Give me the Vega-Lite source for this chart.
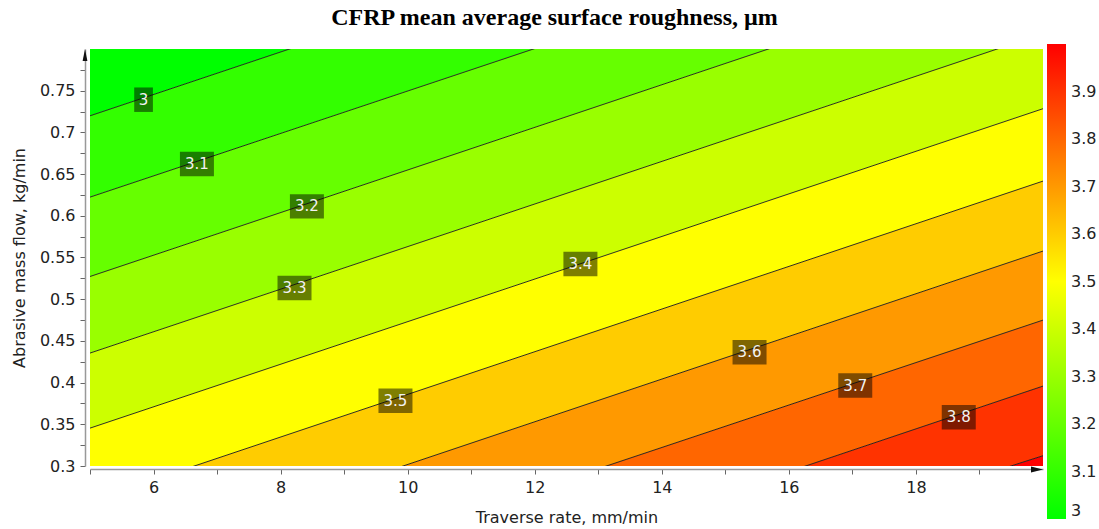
{
  "$schema": "https://vega.github.io/schema/vega-lite/v6.json",
  "width": 953,
  "height": 417,
  "autosize": {"type": "none"},
  "padding": {"left": 90, "top": 49, "right": 56, "bottom": 63},
  "background": "white",
  "config": {"view": {"stroke": null}},
  "title": {
    "text": "CFRP mean average surface roughness, µm",
    "font": "Liberation Serif",
    "fontSize": 24,
    "fontWeight": "bold",
    "color": "#000000",
    "anchor": "middle",
    "dx": -12,
    "offset": 14
  },
  "datasets": {
    "bands": [
      {"v": 3.0, "x": 5, "y": 0.7199, "y2": 1.4},
      {"v": 3.0, "x": 20, "y": 1.1025, "y2": 1.4},
      {"v": 3.1, "x": 5, "y": 0.6224, "y2": 0.7199},
      {"v": 3.1, "x": 20, "y": 1.0041, "y2": 1.1025},
      {"v": 3.2, "x": 5, "y": 0.5272, "y2": 0.6224},
      {"v": 3.2, "x": 20, "y": 0.9104, "y2": 1.0041},
      {"v": 3.3, "x": 5, "y": 0.4354, "y2": 0.5272},
      {"v": 3.3, "x": 20, "y": 0.8184, "y2": 0.9104},
      {"v": 3.4, "x": 5, "y": 0.3454, "y2": 0.4354},
      {"v": 3.4, "x": 20, "y": 0.7284, "y2": 0.8184},
      {"v": 3.5, "x": 5, "y": 0.2580, "y2": 0.3454},
      {"v": 3.5, "x": 20, "y": 0.6416, "y2": 0.7284},
      {"v": 3.6, "x": 5, "y": 0.1739, "y2": 0.2580},
      {"v": 3.6, "x": 20, "y": 0.5577, "y2": 0.6416},
      {"v": 3.7, "x": 5, "y": 0.0931, "y2": 0.1739},
      {"v": 3.7, "x": 20, "y": 0.4749, "y2": 0.5577},
      {"v": 3.8, "x": 5, "y": 0.0112, "y2": 0.0931},
      {"v": 3.8, "x": 20, "y": 0.3958, "y2": 0.4749},
      {"v": 3.9, "x": 5, "y": -0.0538, "y2": 0.0112},
      {"v": 3.9, "x": 20, "y": 0.3123, "y2": 0.3958},
      {"v": 4.0, "x": 5, "y": -0.3, "y2": -0.0538},
      {"v": 4.0, "x": 20, "y": -0.3, "y2": 0.3123}
    ],
    "lines": [
      {"level": 3.0, "x": 5, "y": 0.7199},
      {"level": 3.0, "x": 20, "y": 1.1025},
      {"level": 3.1, "x": 5, "y": 0.6224},
      {"level": 3.1, "x": 20, "y": 1.0041},
      {"level": 3.2, "x": 5, "y": 0.5272},
      {"level": 3.2, "x": 20, "y": 0.9104},
      {"level": 3.3, "x": 5, "y": 0.4354},
      {"level": 3.3, "x": 20, "y": 0.8184},
      {"level": 3.4, "x": 5, "y": 0.3454},
      {"level": 3.4, "x": 20, "y": 0.7284},
      {"level": 3.5, "x": 5, "y": 0.2580},
      {"level": 3.5, "x": 20, "y": 0.6416},
      {"level": 3.6, "x": 5, "y": 0.1739},
      {"level": 3.6, "x": 20, "y": 0.5577},
      {"level": 3.7, "x": 5, "y": 0.0931},
      {"level": 3.7, "x": 20, "y": 0.4749},
      {"level": 3.8, "x": 5, "y": 0.0112},
      {"level": 3.8, "x": 20, "y": 0.3958},
      {"level": 3.9, "x": 5, "y": -0.0538},
      {"level": 3.9, "x": 20, "y": 0.3123}
    ],
    "labels": [
      {"label": "3", "x": 5.843, "y": 0.7392},
      {"label": "3.1", "x": 6.683, "y": 0.6621},
      {"label": "3.2", "x": 8.414, "y": 0.6113},
      {"label": "3.3", "x": 8.219, "y": 0.5134},
      {"label": "3.4", "x": 12.719, "y": 0.5422},
      {"label": "3.5", "x": 9.808, "y": 0.3783},
      {"label": "3.6", "x": 15.381, "y": 0.4364},
      {"label": "3.7", "x": 17.045, "y": 0.3965},
      {"label": "3.8", "x": 18.674, "y": 0.3585}
    ],
    "arrows": [
      {"dir": "up", "x": 5, "y": 0.8},
      {"dir": "right", "x": 20, "y": 0.3}
    ]
  },
  "encoding": {
    "x": {
      "field": "x", "type": "quantitative",
      "scale": {"domain": [5, 20], "nice": false, "zero": false},
      "axis": {
        "values": [5, 6, 7, 8, 9, 10, 11, 12, 13, 14, 15, 16, 17, 18, 19],
        "format": "d",
        "labelExpr": "datum.value % 2 == 0 ? datum.label : ''",
        "tickSize": 5,
        "offset": 3,
        "grid": false,
        "title": "Traverse rate, mm/min",
        "labelFont": "DejaVu Sans", "labelFontSize": 16, "labelColor": "#222222",
        "labelPadding": 5,
        "titleFont": "DejaVu Sans", "titleFontSize": 16, "titleFontWeight": "normal", "titleColor": "#222222",
        "titlePadding": 14,
        "domainColor": "#999999", "domainWidth": 1.5,
        "tickColor": "#666666", "tickWidth": 1
      }
    },
    "y": {
      "field": "y", "type": "quantitative",
      "scale": {"domain": [0.3, 0.8], "nice": false, "zero": false},
      "axis": {
        "values": [0.3, 0.325, 0.35, 0.375, 0.4, 0.425, 0.45, 0.475, 0.5, 0.525, 0.55, 0.575, 0.6, 0.625, 0.65, 0.675, 0.7, 0.725, 0.75, 0.775],
        "format": ".2~f",
        "labelExpr": "abs(datum.value*20 - round(datum.value*20)) < 0.001 ? datum.label : ''",
        "tickSize": 5,
        "offset": 5,
        "grid": false,
        "title": "Abrasive mass flow, kg/min",
        "labelFont": "DejaVu Sans", "labelFontSize": 16, "labelColor": "#222222",
        "labelPadding": 5,
        "titleFont": "DejaVu Sans", "titleFontSize": 16, "titleFontWeight": "normal", "titleColor": "#222222",
        "titlePadding": 12,
        "domainColor": "#999999", "domainWidth": 1.5,
        "tickColor": "#666666", "tickWidth": 1
      }
    }
  },
  "layer": [
    {
      "data": {"name": "bands"},
      "mark": {"type": "area", "clip": true, "interpolate": "linear"},
      "encoding": {
        "y2": {"field": "y2"},
        "detail": {"field": "v", "type": "nominal"},
        "color": {
          "field": "v", "type": "quantitative",
          "scale": {"domain": [3, 4], "range": ["#00ff00", "#ffff00", "#ff0000"], "interpolate": "rgb"},
          "legend": {
            "orient": "none",
            "legendX": 957,
            "legendY": -5,
            "direction": "vertical",
            "gradientLength": 475,
            "gradientThickness": 19,
            "gradientStrokeWidth": 0,
            "title": null,
            "values": [3, 3.1, 3.2, 3.3, 3.4, 3.5, 3.6, 3.7, 3.8, 3.9],
            "format": ".1~f",
            "labelFont": "DejaVu Sans",
            "labelFontSize": 16,
            "labelColor": "#222222",
            "labelOffset": 5
          }
        }
      }
    },
    {
      "data": {"name": "lines"},
      "mark": {"type": "line", "clip": true, "stroke": "#1a1a1a", "strokeWidth": 0.9},
      "encoding": {
        "detail": {"field": "level", "type": "nominal"}
      }
    },
    {
      "data": {"name": "labels"},
      "mark": {"type": "point", "filled": true, "fill": "#000000", "fillOpacity": 0.5, "strokeWidth": 0, "size": 1156},
      "encoding": {
        "shape": {
          "condition": {"test": "length(datum.label) == 1", "value": "M-0.55,-0.72H0.55V0.72H-0.55Z"},
          "value": "M-1,-0.72H1V0.72H-1Z"
        }
      }
    },
    {
      "data": {"name": "labels"},
      "mark": {"type": "text", "font": "DejaVu Sans", "fontSize": 15, "fill": "#f2f2f2", "align": "center", "baseline": "middle"},
      "encoding": {
        "text": {"field": "label", "type": "nominal"}
      }
    },
    {
      "data": {"name": "arrows"},
      "transform": [{"filter": "datum.dir == 'up'"}],
      "mark": {"type": "point", "filled": true, "fill": "#111111", "strokeWidth": 0, "size": 144, "shape": "M0,-1L0.4,1L-0.4,1Z", "xOffset": -5, "yOffset": 6, "opacity": 1},
      "encoding": {}
    },
    {
      "data": {"name": "arrows"},
      "transform": [{"filter": "datum.dir == 'right'"}],
      "mark": {"type": "point", "filled": true, "fill": "#111111", "strokeWidth": 0, "size": 144, "shape": "M1,0L-1,0.5L-1,-0.5Z", "xOffset": -6, "yOffset": 3.5, "opacity": 1},
      "encoding": {}
    }
  ]
}
